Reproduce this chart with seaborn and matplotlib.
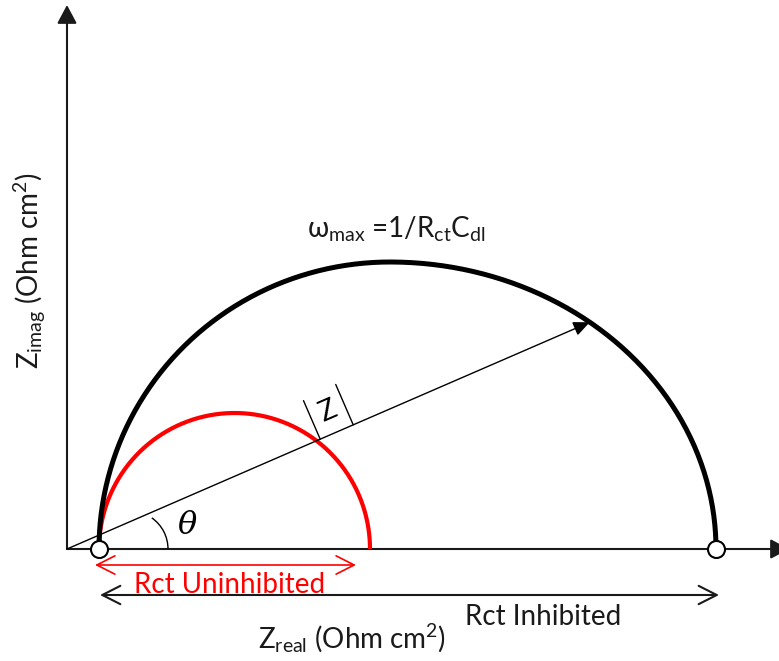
import numpy as np
import pandas as pd
import matplotlib
matplotlib.use("Agg")
import matplotlib.pyplot as plt
from matplotlib.patches import Arc, FancyArrowPatch
import seaborn as sns

# Nyquist sketch parameters (arbitrary Ohm cm^2 units)
r_solution = 32.0                      # high-frequency intercept
rct_values = [271.0, 617.0]            # uninhibited, inhibited charge-transfer resistance
peak_heights = [136.0, 287.0]          # -Z_imag at omega_max
peak_positions = [167.5, 323.0]        # Z_real at omega_max
arc_names = ["Uninhibited", "Inhibited"]
arc_colors = ["#ff0000", "#000000"]
arc_widths = [3.0, 3.6]
theta_deg = 23.45                      # phase angle of the |Z| vector

sns.set_theme(style="white")
plt.rcParams["font.family"] = ["Lato", "DejaVu Sans"]
plt.rcParams["mathtext.fontset"] = "custom"
plt.rcParams["mathtext.rm"] = "Lato"
plt.rcParams["mathtext.it"] = "Lato:italic"
plt.rcParams["mathtext.bf"] = "Lato:bold"
plt.rcParams["mathtext.fallback"] = "stixsans"

FS = 20

fig = plt.figure(figsize=(7.79, 6.61), dpi=100)
ax = fig.add_axes([0, 0, 1, 1])
ax.set_xlim(-67, 712)
ax.set_ylim(-112, 549)
ax.axis("off")


def arc_points(start, end, peak_x, height, n=300):
    """Half-arc from start to end on the real axis, topping out at (peak_x, height)."""
    t = np.linspace(0, np.pi, n)
    half = np.where(t <= np.pi / 2, peak_x - start, end - peak_x)
    return peak_x - half * np.cos(t), height * np.sin(t)


frames = []
for name, rct, h, px in zip(arc_names, rct_values, peak_heights, peak_positions):
    x, y = arc_points(r_solution, r_solution + rct, px, h)
    frames.append(pd.DataFrame({"zreal": x, "zimag": y, "arc": name}))
arcs = pd.concat(frames, ignore_index=True)

for name, color, lw in zip(arc_names, arc_colors, arc_widths):
    sub = arcs[arcs["arc"] == name]
    sns.lineplot(data=sub, x="zreal", y="zimag", sort=False, estimator=None,
                 color=color, lw=lw, ax=ax, legend=False, zorder=3,
                 solid_capstyle="butt")

# Axes with filled arrowheads
axis_kw = dict(arrowstyle="-|>,head_length=0.75,head_width=0.4", mutation_scale=15,
               color="#1a1a1a", lw=1.5, shrinkA=0, shrinkB=0, zorder=2, clip_on=False)
ax.add_patch(FancyArrowPatch((0, 0), (0, 544), **axis_kw))
ax.add_patch(FancyArrowPatch((0, 0), (722, 0), **axis_kw))

# |Z| vector from the origin to the inhibited arc
bx = arcs[arcs["arc"] == "Inhibited"]
ang = np.degrees(np.arctan2(bx["zimag"].values, bx["zreal"].values))
right = bx["zreal"].values > 0
order = np.argsort(ang[right])
tip_x = np.interp(theta_deg, ang[right][order], bx["zreal"].values[right][order])
tip_y = np.interp(theta_deg, ang[right][order], bx["zimag"].values[right][order])
ax.add_patch(FancyArrowPatch((0, 0), (tip_x, tip_y),
                             arrowstyle="-|>,head_length=0.5,head_width=0.22",
                             mutation_scale=20, color="black", lw=1.0,
                             shrinkA=0, shrinkB=0, zorder=4))

u = np.array([np.cos(np.radians(theta_deg)), np.sin(np.radians(theta_deg))])
nrm = np.array([-u[1], u[0]])
for d, L in [(276, 42), (312, 44)]:
    p0 = u * d
    p1 = p0 + nrm * L
    ax.plot([p0[0], p1[0]], [p0[1], p1[1]], color="black", lw=1.0, zorder=4)
zc = u * 294 + nrm * 22
ax.text(zc[0], zc[1], "Z", rotation=theta_deg, rotation_mode="anchor",
        ha="center", va="center", fontsize=FS, color="black")

# Phase angle arc and label
ax.add_patch(Arc((63, 0), 76, 76, theta1=0, theta2=55, color="black", lw=1.0, zorder=4))
ax.text(120, 23, "θ", fontsize=23, style="italic", family="DejaVu Serif",
        ha="center", va="center", color="black")

# Intercept markers
pts = pd.DataFrame({"zreal": [r_solution, r_solution + rct_values[1]], "zimag": [0.0, 0.0]})
sns.scatterplot(data=pts, x="zreal", y="zimag", s=150, facecolor="white",
                edgecolor="black", linewidth=1.5, zorder=6, ax=ax, clip_on=False)

# Rct spans
ax.annotate("", xy=(r_solution + rct_values[0] - 14, -16), xytext=(r_solution - 4, -16),
            arrowprops=dict(arrowstyle="<->,head_length=0.65,head_width=0.33",
                            mutation_scale=20, color="#ff0000", lw=1.2,
                            shrinkA=0, shrinkB=0))
ax.annotate("", xy=(r_solution + rct_values[1] + 3, -46), xytext=(r_solution + 1, -46),
            arrowprops=dict(arrowstyle="<->,head_length=0.65,head_width=0.33",
                            mutation_scale=20, color="#1a1a1a", lw=1.5,
                            shrinkA=0, shrinkB=0))
ax.text(163, -44, "Rct Uninhibited", color="#ff0000", fontsize=FS,
        ha="center", va="baseline")
ax.text(476, -76, "Rct Inhibited", color="#1a1a1a", fontsize=FS,
        ha="center", va="baseline")

# Labels
ax.text(329, 312, "ω$_{\\mathrm{max}}$ =1/R$_{\\mathrm{ct}}$C$_{\\mathrm{dl}}$",
        fontsize=FS, ha="center", va="baseline", color="#1a1a1a")
ax.text(285, -89, "Z$_{\\mathrm{real}}$ (Ohm cm$^{2}$)", fontsize=FS,
        ha="center", va="center", color="#1a1a1a")
ax.text(-37, 278, "Z$_{\\mathrm{imag}}$ (Ohm cm$^{2}$)", fontsize=FS, rotation=90,
        ha="center", va="center", color="#1a1a1a")

fig.savefig("out.png", dpi=100, facecolor="white")
